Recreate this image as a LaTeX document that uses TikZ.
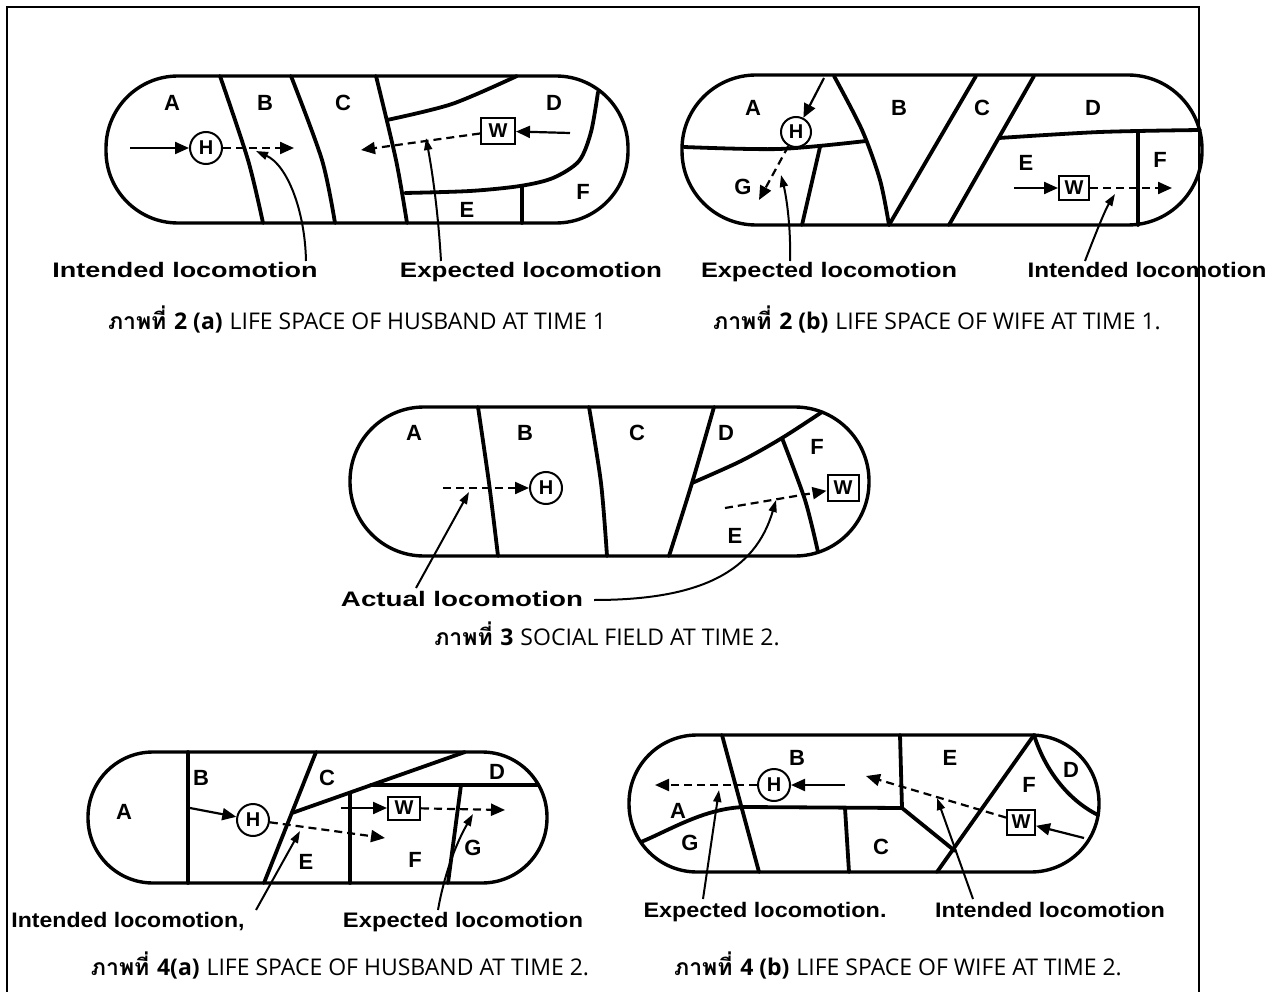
\documentclass[tikz,border=0pt]{standalone}
\usepackage{fontspec}
\usepackage{graphicx}
\usetikzlibrary{arrows.meta,calc}
\newfontfamily\labfont{Liberation Sans}
\newfontfamily\capfont{Open Sans}
\newfontfamily\thaifont[Script=Thai]{Loma}
\newcommand{\lbltext}[2]{\resizebox{#1pt}{\height}{\fontsize{21}{24}\selectfont\labfont\bfseries #2}}
\newcommand{\captext}[2]{\fontsize{23}{28}\selectfont{\thaifont\bfseries ภาพที่ }{\capfont\bfseries #1} {\capfont #2}}
\tikzset{
  pill/.style={line width=3.4pt, rounded corners=#1},
  bnd/.style={line width=3.8pt, line cap=round, line join=round},
  sarr/.style={line width=2.2pt, -{Triangle[length=14pt,width=12pt]}},
  darr/.style={sarr, dash pattern=on 8pt off 5pt},
  ptr/.style={line width=2pt, -{Triangle[length=12pt,width=8pt]}},
  reg/.style={font=\fontsize{22}{24}\selectfont\labfont\bfseries, inner sep=0pt},
  hnode/.style={draw, circle, line width=2pt, minimum size=32pt, inner sep=0pt, fill=white, font=\fontsize{20}{22}\selectfont\labfont\bfseries},
  wnode/.style={draw, rectangle, line width=2pt, minimum width=34pt, minimum height=26pt, inner sep=0pt, fill=white, font=\fontsize{20}{22}\selectfont\labfont\bfseries},
  lab/.style={anchor=base, inner sep=0pt},
  capn/.style={anchor=base, inner sep=0pt}
}
\begin{document}
\begin{tikzpicture}[x=1pt,y=-1pt]
\useasboundingbox (0,0) rectangle (1285,992);
\draw[line width=2.5pt] (7,992) -- (7,7) -- (1199,7) -- (1199,992);

% ---------------- Diagram 2(a)
\draw[pill=72] (106,76) rectangle (628,223);
\draw[bnd] plot[smooth] coordinates {(220,76) (248,160) (263,223)};
\draw[bnd] plot[smooth] coordinates {(291,76) (322,160) (335,223)};
\draw[bnd] plot[smooth] coordinates {(376,76) (396,160) (407,223)};
\draw[bnd] plot[smooth] coordinates {(387,120) (452,104) (517,76)};
\draw[bnd] plot[smooth] coordinates {(598,92) (591,132) (579,161) (553,178) (520,186) (470,191) (405,193)};
\draw[bnd] (522,186) -- (522,223);
\node[reg] (r1A) at (172,103) {A};
\node[reg] (r1B) at (265,103) {B};
\node[reg] (r1C) at (343,103) {C};
\node[reg] (r1D) at (554,103) {D};
\node[reg] (r1E) at (467,210) {E};
\node[reg] (r1F) at (583,192) {F};
\node[hnode] (h1) at (206,148) {H};
\node[wnode] (w1) at (498,131) {W};
\coordinate (t1h) at (130,148);
\coordinate (e1h) at (294,148);
\coordinate (t1w) at (570,133);
\coordinate (e1w) at (361,150);
\draw[sarr] (t1h) -- (h1);
\draw[darr] (h1) -- (e1h);
\draw[sarr] (t1w) -- (w1);
\draw[darr] (w1) -- (e1w);
\node[lab] (l1a) at (185,278) {\lbltext{265}{Intended locomotion}};
\node[lab] (l1b) at (531,278) {\lbltext{262}{Expected locomotion}};
\coordinate (p1a) at (306,261);
\coordinate (q1a) at (256,151);
\coordinate (p1b) at (441,261);
\coordinate (q1b) at (426,138);
\draw[ptr] (p1a) .. controls (305,210) and (287,165) .. (q1a);
\draw[ptr] (p1b) .. controls (438,210) and (432,170) .. (q1b);
\node[capn] (c1) at (357,330) {\captext{2 (a)}{LIFE SPACE OF HUSBAND AT TIME 1}};

% ---------------- Diagram 2(b)
\draw[pill=74] (682,75) rectangle (1202,225);
\draw[bnd] plot[smooth] coordinates {(684,147) (779,149) (866,141)};
\draw[bnd] (820,147) -- (802,225);
\draw[bnd] plot[smooth] coordinates {(834,76) (862,130) (880,180) (889,225)};
\draw[bnd] (889,225) -- (976,76);
\draw[bnd] (1034,76) -- (949,225);
\draw[bnd] plot[smooth] coordinates {(999,138) (1100,132) (1200,130)};
\draw[bnd] (1138,131) -- (1138,225);
\node[reg] (r2A) at (753,108) {A};
\node[reg] (r2B) at (899,108) {B};
\node[reg] (r2C) at (982,108) {C};
\node[reg] (r2D) at (1093,108) {D};
\node[reg] (r2E) at (1026,163) {E};
\node[reg] (r2F) at (1160,160) {F};
\node[reg] (r2G) at (743,187) {G};
\node[hnode, minimum size=30pt] (h2) at (796,132) {H};
\node[wnode, minimum width=30pt, minimum height=24pt] (w2) at (1074,188) {W};
\coordinate (t2h) at (824,78);
\coordinate (e2h) at (759,200);
\coordinate (t2w) at (1014,188);
\coordinate (e2w) at (1172,188);
\draw[sarr] (t2h) -- (h2);
\draw[darr] (h2) -- (e2h);
\draw[sarr] (t2w) -- (w2);
\draw[darr] (w2) -- (e2w);
\node[lab] (l2a) at (829,278) {\lbltext{256}{Expected locomotion}};
\node[lab] (l2b) at (1147,278) {\lbltext{239}{Intended locomotion}};
\coordinate (p2a) at (790,261);
\coordinate (q2a) at (781,175);
\coordinate (p2b) at (1085,261);
\coordinate (q2b) at (1115,194);
\draw[ptr] (p2a) .. controls (791,225) and (786,195) .. (q2a);
\draw[ptr] (p2b) .. controls (1095,235) and (1105,210) .. (q2b);
\node[capn] (c2) at (937,330) {\captext{2 (b)}{LIFE SPACE OF WIFE AT TIME 1.}};

% ---------------- Diagram 3
\draw[pill=74] (350,407) rectangle (869,556);
\draw[bnd] plot[smooth] coordinates {(478,407) (489,483) (498,556)};
\draw[bnd] plot[smooth] coordinates {(589,407) (601,483) (607,556)};
\draw[bnd] plot[smooth] coordinates {(714,407) (692,483) (669,556)};
\draw[bnd] plot[smooth] coordinates {(692,483) (741,461) (782,438) (822,412)};
\draw[bnd] plot[smooth] coordinates {(782,438) (805,500) (818,552)};
\node[reg] (r3A) at (414,433) {A};
\node[reg] (r3B) at (525,433) {B};
\node[reg] (r3C) at (637,433) {C};
\node[reg] (r3D) at (726,433) {D};
\node[reg] (r3E) at (735,536) {E};
\node[reg] (r3F) at (817,447) {F};
\node[hnode] (h3) at (546,488) {H};
\node[wnode, minimum width=31pt] (w3) at (843,488) {W};
\coordinate (t3h) at (443,488);
\coordinate (t3w) at (725,508);
\draw[darr] (t3h) -- (h3);
\draw[darr] (t3w) -- (w3);
\node[lab] (l3) at (462,606) {\lbltext{242}{Actual locomotion}};
\coordinate (p3a) at (416,588);
\coordinate (q3a) at (469,492);
\coordinate (p3b) at (594,600);
\coordinate (q3b) at (776,500);
\draw[ptr] (p3a) -- (q3a);
\draw[ptr] (p3b) .. controls (700,600) and (755,572) .. (q3b);
\node[capn] (c3) at (607,645) {\captext{3}{SOCIAL FIELD AT TIME 2.}};

% ---------------- Diagram 4(a)
\draw[pill=65] (88,752) rectangle (547,883);
\draw[bnd] (188,752) -- (188,883);
\draw[bnd] (316,752) -- (264,883);
\draw[bnd] (292,813) -- (465,752);
\draw[bnd] (371,785) -- (538,785);
\draw[bnd] (350,793) -- (350,883);
\draw[bnd] (461,785) -- (448,883);
\node[reg] (r4A) at (124,812) {A};
\node[reg] (r4B) at (201,778) {B};
\node[reg] (r4C) at (327,778) {C};
\node[reg] (r4D) at (497,772) {D};
\node[reg] (r4E) at (306,862) {E};
\node[reg] (r4F) at (415,860) {F};
\node[reg] (r4G) at (473,848) {G};
\node[hnode] (h4) at (253,820) {H};
\node[wnode, minimum width=32pt, minimum height=23pt] (w4) at (404,808) {W};
\coordinate (t4h) at (190,808);
\coordinate (e4h) at (385,838);
\coordinate (t4w) at (341,808);
\coordinate (e4w) at (505,810);
\draw[sarr] (t4h) -- (h4);
\draw[darr] (h4) -- (e4h);
\draw[sarr] (t4w) -- (w4);
\draw[darr] (w4) -- (e4w);
\node[lab] (l4a) at (128,927) {\lbltext{233}{Intended locomotion,}};
\node[lab] (l4b) at (463,927) {\lbltext{240}{Expected locomotion}};
\coordinate (p4a) at (256,910);
\coordinate (q4a) at (300,831);
\coordinate (p4b) at (438,910);
\coordinate (q4b) at (473,814);
\draw[ptr] (p4a) -- (q4a);
\draw[ptr] (p4b) .. controls (445,870) and (458,840) .. (q4b);
\node[capn] (c4a) at (340,975) {\captext{4(a)}{LIFE SPACE OF HUSBAND AT TIME 2.}};

% ---------------- Diagram 4(b)
\draw[pill=68] (629,735) rectangle (1099,872);
\draw[bnd] (722,735) -- (759,872);
\draw[bnd] (641,842) .. controls (670,830) and (705,808) .. (745,807) -- (902,808);
\draw[bnd] (900,735) -- (902,808);
\draw[bnd] (902,808) -- (955,851);
\draw[bnd] (845,808) -- (849,872);
\draw[bnd] (1034,735) -- (937,872);
\draw[bnd] (1034,735) .. controls (1045,770) and (1068,800) .. (1098,815);
\node[reg] (r5A) at (678,811) {A};
\node[reg] (r5B) at (797,758) {B};
\node[reg] (r5C) at (881,847) {C};
\node[reg] (r5D) at (1071,770) {D};
\node[reg] (r5E) at (950,758) {E};
\node[reg] (r5F) at (1029,785) {F};
\node[reg] (r5G) at (690,843) {G};
\node[hnode] (h5) at (774,785) {H};
\node[wnode, minimum width=28pt, minimum height=25pt] (w5) at (1021,822) {W};
\coordinate (t5h) at (845,785);
\coordinate (e5h) at (655,785);
\coordinate (t5w) at (1084,838);
\coordinate (e5w) at (866,776);
\draw[sarr] (t5h) -- (h5);
\draw[darr] (h5) -- (e5h);
\draw[sarr] (t5w) -- (w5);
\draw[darr] (w5) -- (e5w);
\node[lab] (l5a) at (765,917) {\lbltext{243}{Expected locomotion.}};
\node[lab] (l5b) at (1050,917) {\lbltext{230}{Intended locomotion}};
\coordinate (p5a) at (703,899);
\coordinate (q5a) at (719,790);
\coordinate (p5b) at (973,899);
\coordinate (q5b) at (937,798);
\draw[ptr] (p5a) -- (q5a);
\draw[ptr] (p5b) -- (q5b);
\node[capn] (c5) at (898,975) {\captext{4 (b)}{LIFE SPACE OF WIFE AT TIME 2.}};
\end{tikzpicture}
\end{document}
